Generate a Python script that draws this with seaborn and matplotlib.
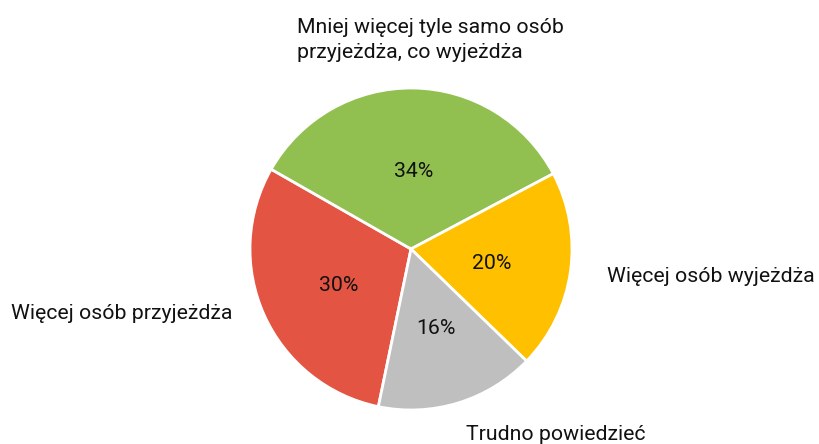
import matplotlib
matplotlib.use("Agg")
import matplotlib.pyplot as plt
import seaborn as sns

sns.set_theme(style="white")
plt.rcParams['font.family'] = ['Roboto', 'DejaVu Sans']

categories = ["Więcej osób przyjeżdża",
              "Mniej więcej tyle samo osób\nprzyjeżdża, co wyjeżdża",
              "Więcej osób wyjeżdża",
              "Trudno powiedzieć"]
values = [30, 34, 20, 16]
colors = ["#E45442", "#92C050", "#FFC000", "#BFBFBF"]

# label positions (data units, radius = 1) and alignment
label_pos = [(-1.112, -0.40, 'right'),
             (-0.708, 1.300, 'left'),
             (1.217, -0.172, 'left'),
             (0.342, -1.150, 'left')]

fig = plt.figure(figsize=(8.19, 4.44), dpi=100)
ax = fig.add_axes([0, 0, 1, 1])
wedges, texts, autotexts = ax.pie(
    values, labels=categories, colors=colors, startangle=258.3,
    counterclock=False, autopct='%1.0f%%', pctdistance=0.5,
    wedgeprops=dict(edgecolor='white', linewidth=2),
    textprops=dict(fontsize=15.3, color='#111111'))
for t, (x, y, ha) in zip(texts, label_pos):
    t.set_position((x, y))
    t.set_ha(ha)
    t.set_va('center')
    t.set_multialignment('left')
    t.set_linespacing(1.4)
for t in autotexts:
    t.set_fontsize(15.3)
    x, y = t.get_position()
    t.set_position((x + 1 / 161, y - 3 / 161))
ax.set_aspect('auto')
ax.set_xlim(-411 / 161, (819 - 411) / 161)
ax.set_ylim(-(444 - 249) / 161, 249 / 161)
ax.axis('off')
fig.savefig("out.png", dpi=100)
